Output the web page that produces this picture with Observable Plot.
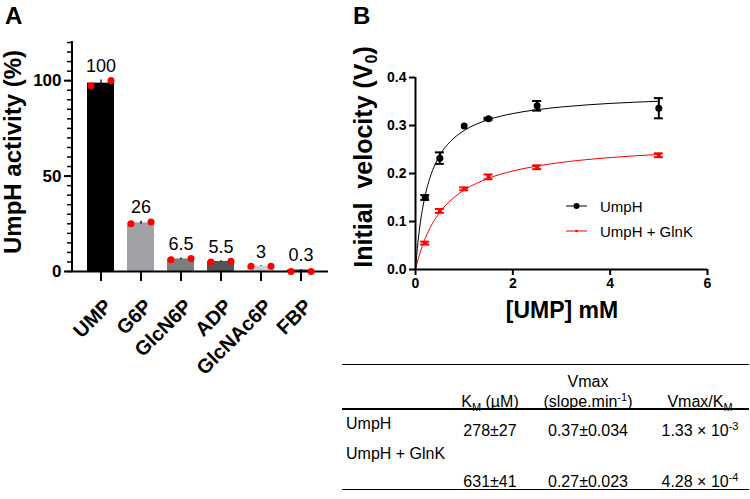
<!DOCTYPE html>
<html><head><meta charset="utf-8">
<script src="https://cdn.jsdelivr.net/npm/d3@7"></script>
<script src="https://cdn.jsdelivr.net/npm/@observablehq/plot@0.6"></script>
<style>
body{margin:0;background:#fff;font-family:"Liberation Sans",Arial,Helvetica,sans-serif;}
#wrap{position:relative;width:750px;height:499px;overflow:hidden;background:#fff;}
.abs{position:absolute;white-space:pre;line-height:1;color:#000;}
.c{transform:translate(-50%,-50%);}
.l{transform:translate(0,-50%);}
.rot{transform:translate(-50%,-50%) rotate(-90deg);}
.hl{position:absolute;background:#000;}
svg.plot-abs{position:absolute;}
</style></head><body><div id="wrap"></div>
<script>
// ---------- Panel A data ----------
const categories = ["UMP", "G6P", "GlcN6P", "ADP", "GlcNAc6P", "FBP"];
const meanActivity = [98.7, 25.5, 6.6, 5.3, 2.8, 0.8];
const errActivity = [1.6, 0.8, 0.5, 0.3, 0.2, 0.3];
const replicate1 = [97.3, 25.0, 6.2, 5.0, 2.8, 0.0];
const replicate2 = [100.1, 26.0, 6.8, 5.4, 2.8, 0.0];
const valueLabels = ["100", "26", "6.5", "5.5", "3", "0.3"];
const barColors = ["#000000", "#a2a2a6", "#7e7e7e", "#555555", "#cfcfcf", "#3a3a3a"];
const yTicksA = [0, 50, 100];
const yMinorTicksA = [0,5,10,15,20,25,30,35,40,45,50,55,60,65,70,75,80,85,90,95,100,105,110,115,120];

// ---------- Panel B data ----------
const umpConc = [0.2, 0.5, 1, 1.5, 2.5, 5];
const vUmpH = [0.150, 0.232, 0.299, 0.314, 0.341, 0.336];
const errUmpH = [0.005, 0.012, 0, 0.002, 0.010, 0.021];
const vUmpHGlnK = [0.055, 0.122, 0.168, 0.193, 0.213, 0.238];
const errUmpHGlnK = [0.003, 0.004, 0.003, 0.005, 0.004, 0.004];
const fitX = [0, 0.05, 0.1, 0.2, 0.3, 0.5, 0.75, 1, 1.5, 2, 2.5, 3, 4, 5];
const fitUmpH = [0, 0.0564, 0.0979, 0.1548, 0.192, 0.2378, 0.2699, 0.2895, 0.3122, 0.3249, 0.333, 0.3386, 0.346, 0.3505];
const fitUmpHGlnK = [0, 0.0198, 0.0369, 0.065, 0.087, 0.1194, 0.1466, 0.1655, 0.19, 0.2052, 0.2156, 0.2231, 0.2332, 0.2397];
const xTicksB = [0, 2, 4, 6];
const yTicksB = [0, 0.1, 0.2, 0.3, 0.4];
const seriesNames = ["UmpH", "UmpH + GlnK"];

// ---------- Table data ----------
const rowNames = ["UmpH", "UmpH + GlnK"];
const kmValues = ["278±27", "631±41"];
const vmaxValues = ["0.37±0.034", "0.27±0.023"];
const ratioMantissa = ["1.33", "4.28"];
const ratioExponent = ["-3", "-4"];

const FONT = "Liberation Sans, Arial, Helvetica, sans-serif";
const wrap = document.getElementById("wrap");

function leftAxisLine(strokeWidth) {
  return (index, scales, values, dims) => {
    const l = document.createElementNS("http://www.w3.org/2000/svg", "line");
    l.setAttribute("x1", dims.marginLeft); l.setAttribute("x2", dims.marginLeft);
    l.setAttribute("y1", dims.marginTop - 1); l.setAttribute("y2", dims.height - dims.marginBottom + 1);
    l.setAttribute("stroke", "#000"); l.setAttribute("stroke-width", strokeWidth);
    return l;
  };
}

// ---------- Panel A ----------
const dataA = categories.map((c, i) => ({cat: c, mean: meanActivity[i], err: errActivity[i],
  r1: replicate1[i], r2: replicate2[i], label: valueLabels[i]}));
const plotA = Plot.plot({
  width: 345, height: 360,
  marginLeft: 72, marginRight: 17, marginTop: 42, marginBottom: 89,
  style: {background: "transparent", fontFamily: FONT, overflow: "visible"},
  x: {domain: categories, paddingInner: 0.325, paddingOuter: 0.3625, axis: null, label: null},
  y: {domain: [0, 120], axis: null, label: null},
  color: {domain: categories, range: barColors},
  marks: [
    Plot.barY(dataA, {x: "cat", y: "mean", fill: "cat"}),
    Plot.ruleX(dataA, {x: "cat", y1: d => d.mean - d.err, y2: d => d.mean + d.err, stroke: "#000", strokeWidth: 1.3}),
    Plot.ruleY(dataA, {x: "cat", y: d => d.mean + d.err, insetLeft: 8, insetRight: 8, stroke: "#000", strokeWidth: 1.3}),
    Plot.ruleY(dataA, {x: "cat", y: d => d.mean - d.err, insetLeft: 8, insetRight: 8, stroke: "#000", strokeWidth: 1.3}),
    Plot.axisY({ticks: yMinorTicksA, tickSize: 5, tickFormat: () => "", strokeWidth: 1.5, label: null}),
    Plot.axisY({ticks: yTicksA, tickSize: 8, strokeWidth: 2, fontSize: 17, fontWeight: "bold", tickPadding: 3, label: null}),
    Plot.axisX({tickSize: 10, strokeWidth: 2, tickFormat: () => "", label: null}),
    Plot.ruleY([0], {stroke: "#000", strokeWidth: 2}),
    leftAxisLine(2),
    Plot.dot(dataA, {x: "cat", y: "r1", dx: -10, r: 3.5, fill: "#ff0000"}),
    Plot.dot(dataA, {x: "cat", y: "r2", dx: 10, r: 3.5, fill: "#ff0000"}),
    Plot.text(dataA, {x: "cat", y: d => Math.max(d.r1, d.r2, d.mean + d.err), text: "label", dy: -14, fontSize: 18, fill: "#000"}),
    Plot.text(dataA, {x: "cat", frameAnchor: "bottom", text: "cat", rotate: -45, textAnchor: "end", lineAnchor: "top",
      dx: 2, dy: 26, fontSize: 20, fontWeight: "bold", fill: "#000"})
  ]
});
plotA.classList.add("plot-abs");
plotA.style.left = "0px"; plotA.style.top = "0px";
wrap.appendChild(plotA);

// ---------- Panel B ----------
const pts = umpConc.map((x, i) => ({x, s: seriesNames[0], v: vUmpH[i], e: errUmpH[i]}))
  .concat(umpConc.map((x, i) => ({x, s: seriesNames[1], v: vUmpHGlnK[i], e: errUmpHGlnK[i]})));
const fits = fitX.map((x, i) => ({x, s: seriesNames[0], v: fitUmpH[i]}))
  .concat(fitX.map((x, i) => ({x, s: seriesNames[1], v: fitUmpHGlnK[i]})));
const blackPts = pts.filter(d => d.s === seriesNames[0]);
const redPts = pts.filter(d => d.s === seriesNames[1]);
const errPts = (arr) => arr.filter(d => d.e > 0);

const plotB = Plot.plot({
  width: 405, height: 340,
  marginLeft: 70, marginRight: 43, marginTop: 77, marginBottom: 71,
  style: {background: "transparent", fontFamily: FONT, overflow: "visible"},
  x: {domain: [0, 6], axis: null, label: null},
  y: {domain: [0, 0.4], axis: null, label: null},
  marks: [
    Plot.line(fits.filter(d => d.s === seriesNames[1]), {x: "x", y: "v", curve: "monotone-x", stroke: "#ff0000", strokeWidth: 1}),
    Plot.line(fits.filter(d => d.s === seriesNames[0]), {x: "x", y: "v", curve: "monotone-x", stroke: "#000", strokeWidth: 1}),
    Plot.ruleX(errPts(redPts), {x: "x", y1: d => d.v - d.e, y2: d => d.v + d.e, stroke: "#ff0000", strokeWidth: 2}),
    Plot.ruleY(errPts(redPts), {y: d => d.v + d.e, x1: "x", x2: "x", insetLeft: -4.5, insetRight: -4.5, stroke: "#ff0000", strokeWidth: 2}),
    Plot.ruleY(errPts(redPts), {y: d => d.v - d.e, x1: "x", x2: "x", insetLeft: -4.5, insetRight: -4.5, stroke: "#ff0000", strokeWidth: 2}),
    Plot.dot(redPts, {x: "x", y: "v", symbol: "square", r: 2.2, fill: "#ff0000"}),
    Plot.ruleX(errPts(blackPts), {x: "x", y1: d => d.v - d.e, y2: d => d.v + d.e, stroke: "#000", strokeWidth: 2}),
    Plot.ruleY(errPts(blackPts), {y: d => d.v + d.e, x1: "x", x2: "x", insetLeft: -4.5, insetRight: -4.5, stroke: "#000", strokeWidth: 2}),
    Plot.ruleY(errPts(blackPts), {y: d => d.v - d.e, x1: "x", x2: "x", insetLeft: -4.5, insetRight: -4.5, stroke: "#000", strokeWidth: 2}),
    Plot.dot(blackPts, {x: "x", y: "v", r: 3.5, fill: "#000"}),
    Plot.axisY({ticks: yTicksB, tickFormat: d3.format(".1f"), tickSize: 6, strokeWidth: 2, fontSize: 14, fontWeight: "bold", tickPadding: 3, label: null}),
    Plot.axisX({ticks: xTicksB, tickFormat: d3.format("d"), tickSize: 6, strokeWidth: 2, fontSize: 14, fontWeight: "bold", tickPadding: 3, label: null}),
    Plot.ruleY([0], {stroke: "#000", strokeWidth: 2}),
    Plot.ruleX([0], {stroke: "#000", strokeWidth: 2})
  ]
});
plotB.classList.add("plot-abs");
plotB.style.left = "345px"; plotB.style.top = "0px";
wrap.appendChild(plotB);

// ---------- HTML text helpers ----------
function addText(html, cls, x, y, size, weight, extra) {
  const d = document.createElement("div");
  d.className = "abs " + cls;
  d.innerHTML = html;
  d.style.left = x + "px"; d.style.top = y + "px";
  d.style.fontSize = size + "px";
  d.style.fontWeight = weight || "normal";
  if (extra) Object.assign(d.style, extra);
  wrap.appendChild(d);
  return d;
}
function hline(x, y, w, h) {
  const d = document.createElement("div");
  d.className = "hl";
  d.style.left = x + "px"; d.style.top = y + "px"; d.style.width = w + "px"; d.style.height = h + "px";
  wrap.appendChild(d);
}

// panel letters
addText("A", "", 5, 4, 24, "bold");
addText("B", "", 353, 4, 24, "bold");

// axis titles
addText("UmpH activity (%)", "rot", 13, 152, 24, "bold");
addText('Initial  velocity (V<span style="font-size:16px;position:relative;top:5px">0</span>)', "rot", 363, 157, 25, "bold");
addText("[UMP] mM", "c", 562, 310, 23, "bold");

// legend
function legendRow(y, color, name, bigMarker) {
  const ns = "http://www.w3.org/2000/svg";
  const s = document.createElementNS(ns, "svg");
  s.setAttribute("width", 30); s.setAttribute("height", 12);
  s.style.position = "absolute"; s.style.left = "562px"; s.style.top = (y - 6) + "px";
  const ln = document.createElementNS(ns, "line");
  ln.setAttribute("x1", 4); ln.setAttribute("x2", 25); ln.setAttribute("y1", 6); ln.setAttribute("y2", 6);
  ln.setAttribute("stroke", color); ln.setAttribute("stroke-width", 1);
  s.appendChild(ln);
  const c = document.createElementNS(ns, "circle");
  c.setAttribute("cx", 14.5); c.setAttribute("cy", 6); c.setAttribute("r", bigMarker ? 3 : 1.3);
  c.setAttribute("fill", color);
  s.appendChild(c);
  wrap.appendChild(s);
  addText(name, "l", 600, y, 15, "normal");
}
legendRow(206, "#000", seriesNames[0], true);
legendRow(231, "#ff0000", seriesNames[1], false);

// table
hline(342, 363.5, 407, 1.6);
hline(342, 408.2, 407, 1.6);
hline(342, 488.5, 407, 1.6);
const sub = t => `<span style="font-size:11px;position:relative;top:4px">${t}</span>`;
const sup = t => `<span style="font-size:11px;position:relative;top:-6px">${t}</span>`;
const colX = [490, 588, 700];
addText("Vmax", "c", colX[1], 382, 16);
addText("K" + sub("M") + " (µM)", "c", colX[0], 401.5, 16);
addText("(slope.min" + sup("-1") + ")", "c", colX[1], 401.5, 16);
addText("Vmax/K" + sub("M"), "c", colX[2], 401.5, 16);
const nameY = [423.5, 453.5];
const valY = [430.5, 482];
rowNames.forEach((n, i) => {
  addText(n, "l", 346, nameY[i], 16);
  addText(kmValues[i], "c", colX[0], valY[i], 16);
  addText(vmaxValues[i], "c", colX[1], valY[i], 16);
  addText(ratioMantissa[i] + " × 10" + sup(ratioExponent[i]), "c", colX[2], valY[i], 16);
});
</script></body></html>
